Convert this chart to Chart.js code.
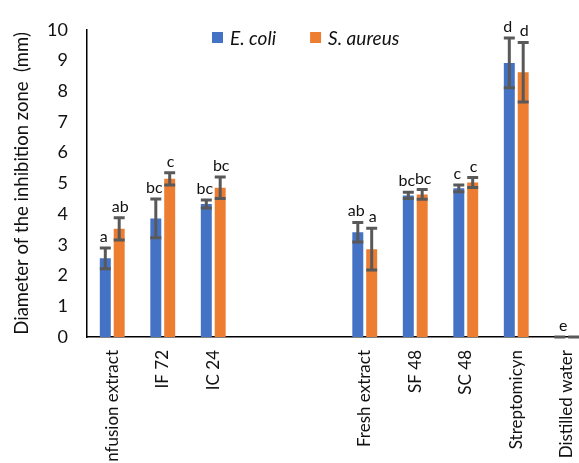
<!DOCTYPE html>
<html>
<head>
<meta charset="utf-8">
<script src="https://cdn.jsdelivr.net/npm/chart.js@4/dist/chart.umd.min.js"></script>
<style>
  html, body { margin: 0; padding: 0; background: #fff; overflow: hidden; }
  #wrap { width: 606px; height: 480px; }
</style>
</head>
<body>
<div id="wrap"><canvas id="chart" width="606" height="480"></canvas></div>
<script>
// categories (two blank slots separate the two extract groups)
var categories = ['Infusion extract', 'IF 72', 'IC 24', '', '', 'Fresh extract', 'SF 48', 'SC 48', 'Streptomicyn', 'Distilled water'];

// mean inhibition zone (mm)
var ecoli   = [2.56, 3.86, 4.33, null, null, 3.41, 4.61, 4.84, 8.92, 0];
var saureus = [3.52, 5.15, 4.86, null, null, 2.86, 4.64, 5.03, 8.62, 0];

// standard deviations
var ecoliErr   = [0.34, 0.63, 0.13, null, null, 0.32, 0.10, 0.11, 0.81, 0];
var saureusErr = [0.36, 0.20, 0.35, null, null, 0.68, 0.16, 0.16, 0.97, 0];

// significance letters
var ecoliLetters   = ['a', 'bc', 'bc', '', '', 'ab', 'bc', 'c', 'd', 'e'];
var saureusLetters = ['ab', 'c', 'bc', '', '', 'a', 'bc', 'c', 'd', ''];

var yTicks = [0, 1, 2, 3, 4, 5, 6, 7, 8, 9, 10];

var FONT = 'Lato, "Liberation Sans", sans-serif';

var errorBars = {
    id: 'errorBars',
    afterDatasetsDraw: function (chart) {
        var ctx = chart.ctx;
        var yScale = chart.scales.y;
        chart.data.datasets.forEach(function (ds, i) {
            var meta = chart.getDatasetMeta(i);
            meta.data.forEach(function (bar, j) {
                var v = ds.data[j];
                if (v === null || v === undefined) return;
                var e = ds.errors[j] || 0;
                var top = yScale.getPixelForValue(v + e);
                var bot = yScale.getPixelForValue(Math.max(0, v - e));
                var half = bar.width / 2;
                ctx.save();
                ctx.strokeStyle = '#595959';
                ctx.lineWidth = 3;
                ctx.beginPath();
                ctx.moveTo(bar.x, top);
                ctx.lineTo(bar.x, bot);
                ctx.moveTo(bar.x - half, top);
                ctx.lineTo(bar.x + half, top);
                ctx.moveTo(bar.x - half, bot);
                ctx.lineTo(bar.x + half, bot);
                ctx.stroke();
                var letter = ds.letters[j];
                if (letter) {
                    ctx.fillStyle = '#111';
                    ctx.font = '16px ' + FONT;
                    ctx.textAlign = 'center';
                    ctx.textBaseline = 'alphabetic';
                    var lx = bar.x;
                    if (v === 0) lx = bar.x + 5;
                    // first series letters sit a touch left, second a touch right
                    lx += i === 0 ? -1.5 : 1;
                    ctx.fillText(letter, lx, top - 6);
                }
                ctx.restore();
            });
        });
    }
};

var innerLegend = {
    id: 'innerLegend',
    afterDraw: function (chart) {
        var ctx = chart.ctx;
        var x = 212, y = 32, box = 11;
        ctx.save();
        ctx.font = 'italic 19px ' + FONT;
        ctx.textBaseline = 'middle';
        ctx.textAlign = 'left';
        chart.data.datasets.forEach(function (ds) {
            ctx.fillStyle = ds.backgroundColor;
            ctx.fillRect(x, y, box, box);
            ctx.fillStyle = '#111';
            ctx.fillText(ds.label, x + box + 7, y + box / 2 + 1);
            x += box + 7 + ctx.measureText(ds.label).width + 34;
        });
        ctx.restore();
    }
};

var chart = new Chart(document.getElementById('chart'), {
    type: 'bar',
    data: {
        labels: categories,
        datasets: [
            {
                label: 'E. coli',
                data: ecoli,
                errors: ecoliErr,
                letters: ecoliLetters,
                backgroundColor: '#4472C4',
                categoryPercentage: 0.55,
                barPercentage: 0.79
            },
            {
                label: 'S. aureus',
                data: saureus,
                errors: saureusErr,
                letters: saureusLetters,
                backgroundColor: '#ED7D31',
                categoryPercentage: 0.55,
                barPercentage: 0.79
            }
        ]
    },
    options: {
        responsive: false,
        animation: false,
        layout: { padding: { top: 21, right: 14, left: 0, bottom: 0 } },
        plugins: {
            legend: { display: false },
            tooltip: { enabled: false }
        },
        scales: {
            x: {
                grid: { display: false, drawTicks: false },
                border: { display: true, color: '#000', width: 1.5 },
                ticks: {
                    color: '#111',
                    font: { family: FONT, size: 17 },
                    minRotation: 90,
                    maxRotation: 90,
                    autoSkip: false,
                    padding: 13
                },
                afterFit: function (scale) { scale.height = 143; }
            },
            y: {
                min: 0,
                max: 10,
                grid: { display: false, drawTicks: false },
                border: { display: true, color: '#000', width: 1.5 },
                afterBuildTicks: function (scale) {
                    scale.ticks = yTicks.map(function (v) { return { value: v }; });
                },
                ticks: {
                    color: '#111',
                    font: { family: FONT, size: 18 },
                    padding: 19
                },
                title: {
                    display: true,
                    text: 'Diameter of the inhibition zone  (mm)',
                    color: '#111',
                    font: { family: FONT, size: 18.5 },
                    padding: { top: 11, bottom: 0 }
                },
                afterFit: function (scale) { scale.width = 87; }
            }
        }
    },
    plugins: [errorBars, innerLegend]
});
</script>
</body>
</html>
